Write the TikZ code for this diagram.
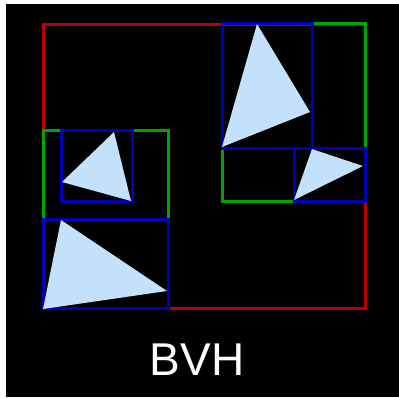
\documentclass[tikz,border=0pt]{standalone}
\usepackage{fontspec}
\setmainfont{Liberation Sans}
\definecolor{bred}{RGB}{185,0,0}
\definecolor{bgreen}{RGB}{0,165,0}
\definecolor{bblue}{RGB}{0,0,185}
\definecolor{tri}{RGB}{195,225,250}
\begin{document}
\begin{tikzpicture}[x=1pt,y=-1pt,
  box/.style={line width=3pt,line join=miter},
  redbox/.style={box,draw=bred},
  greenbox/.style={box,draw=bgreen},
  bluebox/.style={box,draw=bblue},
  trifill/.style={fill=tri}]
\useasboundingbox (0,0) rectangle (399,397);
\fill[white] (0,0) rectangle (399,397);
\fill[black] (6,4) rectangle (399,397);
% root
\draw[redbox] (43,24) rectangle (365,308);
% level 1
\draw[greenbox] (43,130) rectangle (168,219);
\draw[greenbox] (222,23) rectangle (365,201);
% leaves
\draw[bluebox] (61,130) rectangle (132,201);
\draw[bluebox] (43,219) rectangle (168,308);
\draw[bluebox] (222,23) rectangle (312,148);
\draw[bluebox] (294,148) rectangle (365,201);
% triangles
\fill[trifill] (257,24) -- (310,112) -- (222,147) -- cycle;
\fill[trifill] (312,149) -- (363,166) -- (294,200) -- cycle;
\fill[trifill] (114,132) -- (131,201) -- (62,182) -- cycle;
\fill[trifill] (61,220) -- (167,291) -- (43,309) -- cycle;
\node[text=white,font=\fontsize{46}{50}\selectfont,inner sep=0pt] (label) at (197,360) {BVH};
\end{tikzpicture}
\end{document}
